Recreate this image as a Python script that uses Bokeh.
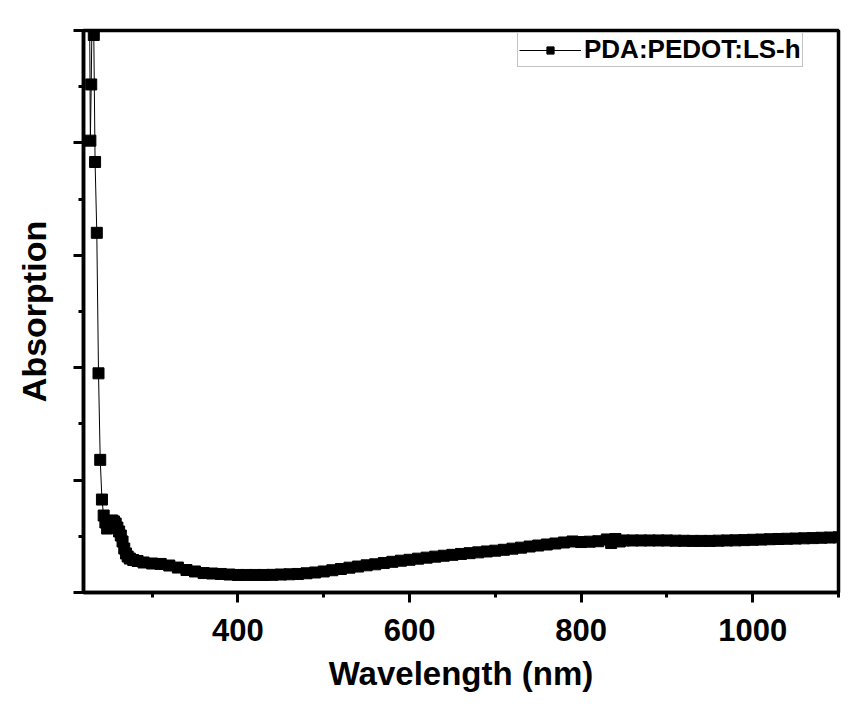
from bokeh.plotting import figure
from bokeh.models import Range1d, FixedTicker, Legend, LegendItem
from bokeh.embed import file_html
from bokeh.resources import INLINE

# Wavelength (nm) and absorption (arb. units)
wavelength = [227, 228, 229, 230.5, 232, 233.5, 235.5, 237.5, 239.5, 241.5, 243.5,
              245.5, 247.5, 249.5, 251.5, 253.5, 255.5, 257.5, 259.5, 261.5, 263.5,
              265.5, 267.5, 269.5, 271.5, 274, 278, 283, 290,
              300, 310, 320, 330, 340, 350, 360, 370, 380, 390, 400, 410, 420, 430,
              440, 450, 460, 470, 480, 490, 500, 510, 520, 530, 540, 550, 560, 570,
              580, 590, 600, 610, 620, 630, 640, 650, 660, 670, 680, 690, 700, 710,
              720, 730, 740, 750, 760, 770, 780, 790, 800, 810, 820, 830, 835, 840,
              845, 850, 860, 870, 880, 890, 900, 910, 920, 930, 940, 950, 960, 970,
              980, 990, 1000, 1010, 1020, 1030, 1040, 1050, 1060, 1070, 1080, 1090, 1100]
absorption = [5.30, 4.02, 4.52, 5.50, 4.96, 3.83, 3.20, 1.95, 1.18, 0.827, 0.685,
              0.623, 0.569, 0.605, 0.632, 0.641, 0.632, 0.614, 0.578, 0.543, 0.507,
              0.454, 0.391, 0.347, 0.320, 0.302, 0.289, 0.280, 0.267,
              0.258, 0.254, 0.240, 0.222, 0.200, 0.187, 0.173, 0.169, 0.165, 0.160, 0.156, 0.156, 0.156, 0.156,
              0.157, 0.160, 0.162, 0.165, 0.171, 0.178, 0.187, 0.198, 0.209, 0.221, 0.231, 0.242, 0.251, 0.262,
              0.273, 0.283, 0.291, 0.301, 0.310, 0.319, 0.327, 0.335, 0.343, 0.350, 0.357, 0.365, 0.372, 0.380,
              0.390, 0.399, 0.409, 0.418, 0.427, 0.436, 0.445, 0.454, 0.449, 0.452, 0.456, 0.472, 0.440, 0.476,
              0.454, 0.463, 0.463, 0.463, 0.463, 0.463, 0.463, 0.461, 0.460, 0.459, 0.459, 0.459, 0.461, 0.463,
              0.464, 0.466, 0.469, 0.471, 0.474, 0.476, 0.478, 0.480, 0.482, 0.484, 0.487, 0.489, 0.491]

x_major = [400, 600, 800, 1000]
x_minor = [300, 500, 700, 900, 1100]
y_major = [0, 1, 2, 3, 4, 5]
y_minor = [0.5, 1.5, 2.5, 3.5, 4.5]

FONT = "Liberation Sans"

p = figure(width=842, height=702, output_backend="svg", toolbar_location=None,
           x_range=Range1d(220, 1100), y_range=Range1d(0, 5),
           min_border_left=83, min_border_right=4, min_border_top=30, min_border_bottom=110)
p.background_fill_color = "white"
p.border_fill_color = "white"
p.xgrid.visible = False
p.ygrid.visible = False
p.outline_line_color = "black"
p.outline_line_width = 3.5

line_r = p.line(wavelength, absorption, line_color="black", line_width=1)
sc_r = p.scatter(wavelength, absorption, marker="square", size=11,
                 fill_color="black", line_color="black")

for ax in (p.xaxis[0], p.yaxis[0]):
    ax.axis_line_width = 3.5
    ax.major_tick_line_width = 3
    ax.minor_tick_line_width = 3
    ax.major_tick_in = 0
    ax.major_tick_out = 10
    ax.minor_tick_in = 0
    ax.minor_tick_out = 5
    ax.axis_label_text_font = FONT
    ax.axis_label_text_font_style = "bold"
    ax.axis_label_text_color = "black"
    ax.major_label_text_font = FONT
    ax.major_label_text_font_style = "bold"
    ax.major_label_text_color = "black"

p.xaxis.ticker = FixedTicker(ticks=x_major, minor_ticks=x_minor)
p.yaxis.ticker = FixedTicker(ticks=y_major, minor_ticks=y_minor)
p.xaxis.axis_label = "Wavelength (nm)"
p.yaxis.axis_label = "Absorption"
p.xaxis.axis_label_text_font_size = "33px"
p.yaxis.axis_label_text_font_size = "34px"
p.xaxis.major_label_text_font_size = "31px"
p.xaxis.major_label_standoff = 16
p.xaxis.axis_label_standoff = 11
p.yaxis.major_label_overrides = {t: "" for t in y_major}
p.yaxis.major_label_standoff = 0
p.yaxis.axis_label_standoff = 21

legend = Legend(items=[LegendItem(label="PDA:PEDOT:LS-h", renderers=[line_r, sc_r])],
                location=(434, 525))
legend.label_text_font = FONT
legend.label_text_font_style = "bold"
legend.label_text_font_size = "26px"
legend.label_text_color = "black"
legend.glyph_width = 62
legend.glyph_height = 18
legend.label_height = 18
legend.label_standoff = 3
legend.padding = 1
legend.margin = 0
legend.spacing = 0
legend.border_line_color = "#888888"
legend.border_line_width = 1
legend.background_fill_color = "white"
p.add_layout(legend, "center")

open("out.html", "w").write(file_html(p, INLINE))
